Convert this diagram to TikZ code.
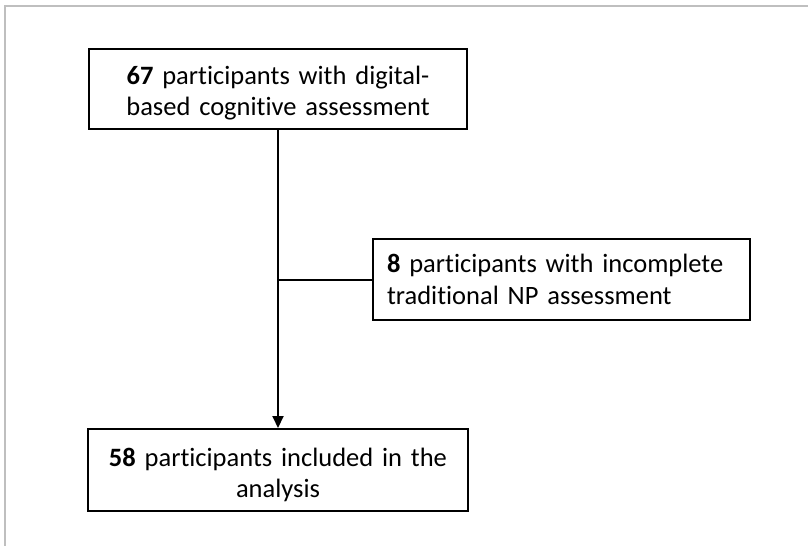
\documentclass[tikz,border=0pt]{standalone}
\usepackage{fontspec}
\setmainfont{Carlito}[Ligatures=CommonOff]
\usetikzlibrary{arrows.meta}
\begin{document}
\begin{tikzpicture}[x=1pt,y=1pt,
  box/.style={draw=black, line width=2pt, inner sep=0pt, font=\fontsize{26.5}{31.5}\selectfont},
  flowline/.style={draw=black, line width=2pt},
  frameline/.style={draw=black!25, line width=1.5pt}
]
\useasboundingbox (0,0) rectangle (808,-546);
\draw[frameline] (808,-6) -- (5,-6) -- (5,-546);
\node[box, minimum width=378pt, minimum height=80pt, text width=370pt, align=center] (top) at (278,-89)
  {\rule{0pt}{27pt}\textbf{67} participants with digital-\\based cognitive assessment};
\node[box, minimum width=377pt, minimum height=81pt, text width=349pt, align=left] (side) at (561.5,-279.5)
  {\textbf{8} participants with incomplete\\traditional NP assessment};
\node[box, minimum width=380pt, minimum height=82pt, text width=370pt, align=center] (bottom) at (278,-470)
  {\rule{0pt}{28pt}\textbf{58} participants included in the\\analysis};
\draw[flowline, -{Triangle[length=12pt,width=11pt]}] (top.south) -- (bottom.north);
\coordinate (join) at (top.south |- side.west);
\draw[flowline] (side.west) -- (join);
\end{tikzpicture}
\end{document}
